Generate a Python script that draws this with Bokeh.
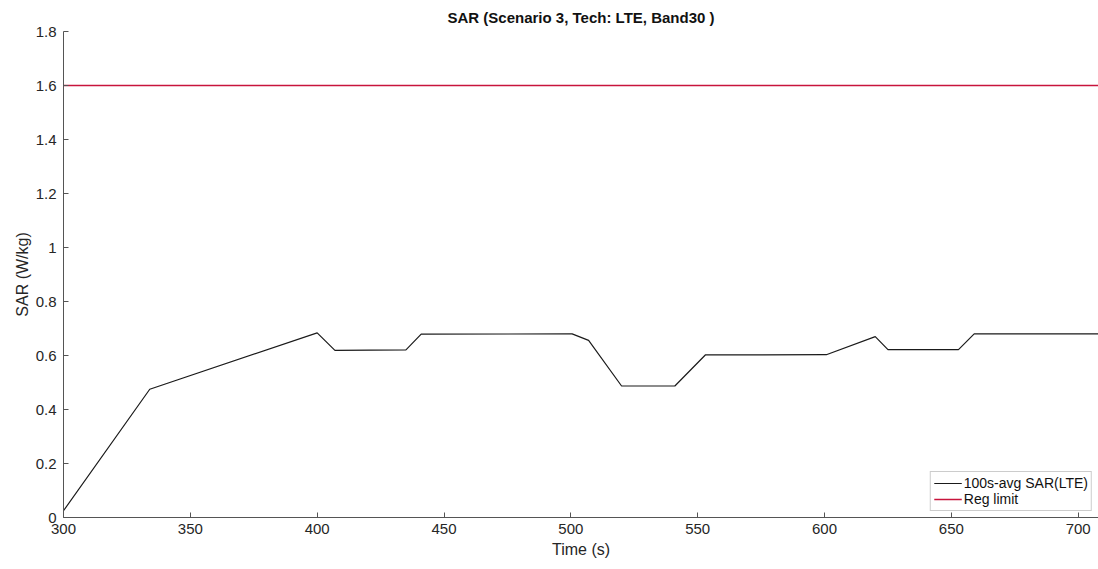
from bokeh.plotting import figure
from bokeh.models import FixedTicker, Range1d, Legend, LegendItem
from bokeh.embed import file_html
from bokeh.resources import INLINE

# Data
time_s = [300, 334, 400, 407, 435, 441, 500.5, 507, 520, 541, 553, 600.7, 620, 625, 652.8, 659, 708]
sar_lte = [0.025, 0.475, 0.684, 0.619, 0.621, 0.679, 0.680, 0.656, 0.487, 0.487, 0.602, 0.603, 0.670, 0.622, 0.622, 0.680, 0.680]
reg_limit = 1.6
x_ticks = [300, 350, 400, 450, 500, 550, 600, 650, 700]
y_ticks = [0, 0.2, 0.4, 0.6, 0.8, 1.0, 1.2, 1.4, 1.6, 1.8]
y_tick_labels = ["0", "0.2", "0.4", "0.6", "0.8", "1", "1.2", "1.4", "1.6", "1.8"]

FONT = "Liberation Sans"
TXT = "#262626"

p = figure(width=1098, height=569, output_backend="svg", toolbar_location=None,
           x_range=Range1d(300, 708), y_range=Range1d(0, 1.8),
           min_border_left=63, min_border_right=0, min_border_top=31, min_border_bottom=52)

p.title.text = "SAR (Scenario 3, Tech: LTE, Band30 )"
p.title.align = "center"
p.title.text_font = FONT
p.title.text_font_size = "15px"
p.title.text_font_style = "bold"
p.title.text_color = "#111111"
p.title.offset = 0
p.title.standoff = 12

p.outline_line_color = None
p.xgrid.grid_line_color = None
p.ygrid.grid_line_color = None

l1 = p.line(time_s, sar_lte, line_color="#1a1a1a", line_width=1.2)
l2 = p.line([300, 708], [reg_limit, reg_limit], line_color="#c8143c", line_width=1.3)

p.xaxis.ticker = FixedTicker(ticks=x_ticks)
p.yaxis.ticker = FixedTicker(ticks=y_ticks)
p.yaxis.major_label_overrides = {t: s for t, s in zip(y_ticks, y_tick_labels)}
p.xaxis.axis_label = "Time (s)"
p.yaxis.axis_label = "SAR (W/kg)"

for ax in (p.xaxis[0], p.yaxis[0]):
    ax.axis_line_color = "#555555"
    ax.major_tick_line_color = "#555555"
    ax.major_tick_in = 5
    ax.major_tick_out = 0
    ax.minor_tick_line_color = None
    ax.major_label_text_font = FONT
    ax.major_label_text_font_size = "15px"
    ax.major_label_text_color = TXT
    ax.axis_label_text_font = FONT
    ax.axis_label_text_font_size = "16px"
    ax.axis_label_text_font_style = "normal"
    ax.axis_label_text_color = TXT

p.xaxis.major_label_standoff = 6
p.xaxis.axis_label_standoff = 4
p.yaxis.major_label_standoff = 7
p.yaxis.axis_label_standoff = 2

legend = Legend(items=[LegendItem(label="100s-avg SAR(LTE)", renderers=[l1]),
                       LegendItem(label="Reg limit", renderers=[l2])],
                location="bottom_right")
legend.margin = 6
legend.padding = 3
legend.spacing = 0
legend.label_text_font = FONT
legend.label_text_font_size = "14px"
legend.label_text_color = "#111111"
legend.label_height = 16
legend.glyph_height = 16
legend.glyph_width = 28
legend.label_standoff = 2
legend.border_line_color = "#999999"
legend.border_line_width = 1
legend.background_fill_color = "white"
p.add_layout(legend)

open("out.html", "w").write(file_html(p, INLINE))
